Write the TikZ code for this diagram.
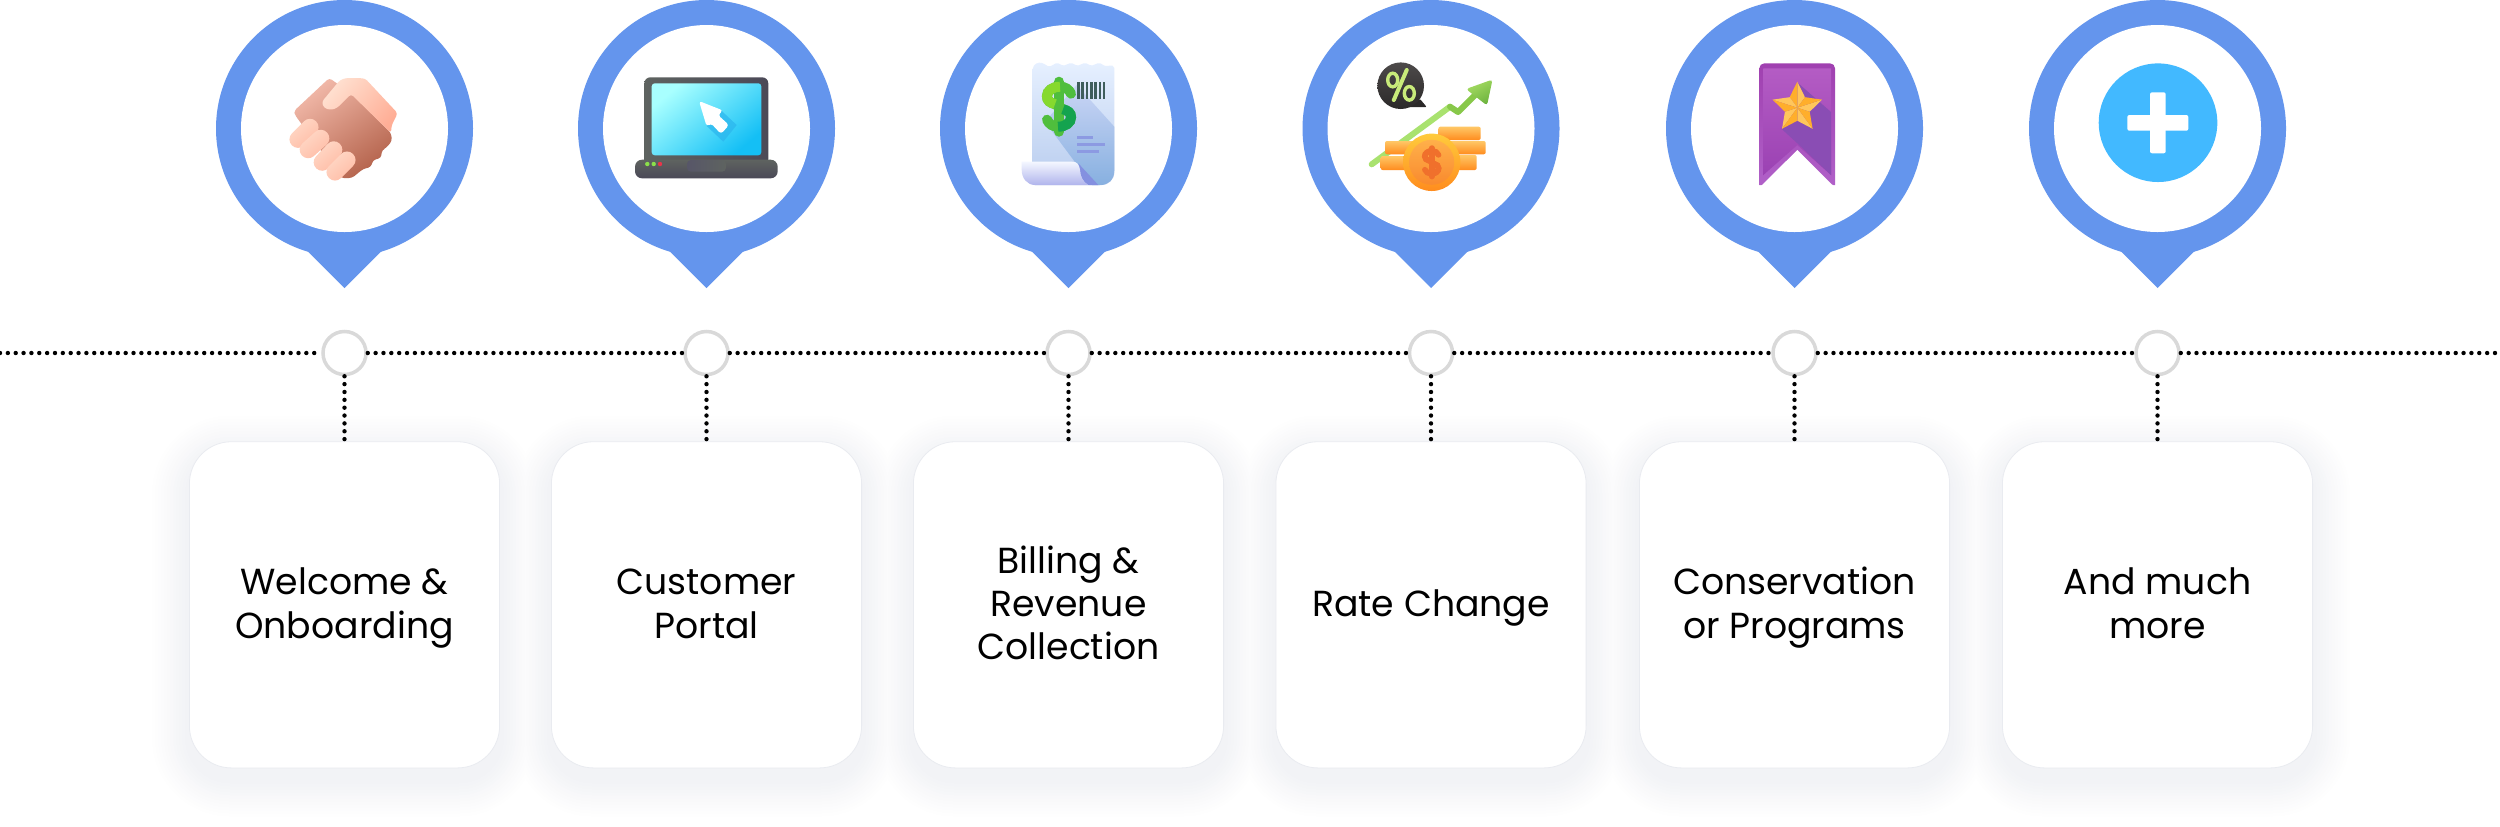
\documentclass[tikz,border=0pt]{standalone}
\usepackage{fontspec}
\setmainfont{Poppins}
\usetikzlibrary{positioning}
\definecolor{pinblue}{HTML}{6495ED}
\definecolor{ringgray}{HTML}{D9D9D9}
\definecolor{cardline}{HTML}{E9EBF0}
\definecolor{shadowgray}{HTML}{5A6A8A}
\definecolor{plusblue}{HTML}{42B9FF}
\definecolor{skinlight}{HTML}{FFDCCB}
\definecolor{skinpeach}{HTML}{FFB9A2}
\definecolor{palmlight}{HTML}{F1B8A8}
\definecolor{palmdark}{HTML}{B5644D}
\definecolor{thumblight}{HTML}{FFE0D0}
\definecolor{thumbdark}{HTML}{FFAE96}
\definecolor{casegray}{HTML}{5E6360}
\definecolor{caseslate}{HTML}{4B4957}
\definecolor{screenlight}{HTML}{A8FFFF}
\definecolor{screenblue}{HTML}{14BFF5}
\definecolor{cursorshade}{HTML}{2BB5EE}
\definecolor{padslate}{HTML}{575668}
\definecolor{ledgreen}{HTML}{8BE04A}
\definecolor{ledred}{HTML}{E8344A}
\definecolor{paperlight}{HTML}{E6F0FF}
\definecolor{paperblue}{HTML}{B8CCEE}
\definecolor{foldlight}{HTML}{CAD5F5}
\definecolor{foldblue}{HTML}{87B0E0}
\definecolor{barcode}{HTML}{3F5E5C}
\definecolor{printline}{HTML}{8C9AE2}
\definecolor{curlblue}{HTML}{8490E0}
\definecolor{rolllight}{HTML}{F4F7FF}
\definecolor{rollblue}{HTML}{B0B4EC}
\definecolor{cashlight}{HTML}{86D92E}
\definecolor{cashmid}{HTML}{4FBE3D}
\definecolor{cashdark}{HTML}{14A34F}
\definecolor{bubbledark}{HTML}{2B2929}
\definecolor{bubbletop}{HTML}{4D4A4A}
\definecolor{percentgreen}{HTML}{C8EB7A}
\definecolor{trendline}{HTML}{A9E26F}
\definecolor{trendneck}{HTML}{88C84A}
\definecolor{trendtop}{HTML}{A7DD63}
\definecolor{trendbot}{HTML}{6DB33F}
\definecolor{coinlight}{HTML}{FFC766}
\definecolor{coinorange}{HTML}{FF8C1E}
\definecolor{rimlight}{HTML}{FFCB3C}
\definecolor{facelight}{HTML}{FFB04A}
\definecolor{facedark}{HTML}{F98A2E}
\definecolor{coinmark}{HTML}{F0702C}
\definecolor{ribbontop}{HTML}{A040B0}
\definecolor{ribbonbot}{HTML}{B060C8}
\definecolor{ribbonlight}{HTML}{B45CC4}
\definecolor{ribbondeep}{HTML}{9B42B3}
\definecolor{ribbonshade}{HTML}{8A4DB4}
\definecolor{starlight}{HTML}{FFC65C}
\definecolor{stardeep}{HTML}{FFAE2B}
\tikzset{
  dotline/.style={line width=0.044cm,line cap=round,dash pattern=on 0pt off 0.0785cm},
  ringdot/.style={circle,draw=ringgray,fill=white,line width=0.035cm,minimum size=0.43cm,inner sep=0pt},
  cardbox/.style={draw=cardline,line width=0.008cm,fill=white,rounded corners=0.42cm,minimum width=3.10cm,minimum height=3.26cm,align=center,font=\fontsize{10.3}{12.25}\selectfont},
}
\newcommand{\cardstrut}{\rule[-2.805pt]{0pt}{12.25pt}}
\newcommand{\dollarsign}[7]{%
  \begin{scope}[shift={(#1,#2)},scale=#3,line width=#4]
  \draw[#6,line cap=round] (0,-25)--(0,25);
  \draw[#6,line cap=round] (12,-13) .. controls (10,-17.5) and (6,-20) .. (1,-20) .. controls (-6.5,-20) and (-12,-16) .. (-12,-10.5) .. controls (-12,-6) and (-9,-4) .. (-4,-2.5) -- (4,2.5) .. controls (9,4) and (12,6) .. (12,10.5) .. controls (12,16) and (6.5,20) .. (-1,20) .. controls (-6,20) and (-10,17.5) .. (-12,13);
  \draw[#5] (1,-20) .. controls (-6.5,-20) and (-12,-16) .. (-12,-10.5) .. controls (-12,-6) and (-9,-4) .. (-4,-2.5);
  \draw[#7] (4,2.5) .. controls (9,4) and (12,6) .. (12,10.5) .. controls (12,16) and (6.5,20) .. (-1,20);
  \end{scope}}
\newcommand{\fingerbar}[3]{%
  \begin{scope}[shift={(#1,#2)},rotate=#3]
  \shade[top color=skinlight,bottom color=skinpeach,shading angle=40,rounded corners=0.084cm] (-17,-8.5) rectangle (17,8.5);
  \end{scope}}
\begin{document}
\begin{tikzpicture}[x=0.01cm,y=-0.01cm]
\useasboundingbox (0,0) rectangle (2500,826);
\fill[white] (0,0) rectangle (2500,826);
\coordinate (lineleft) at (0,353);
\coordinate (lineright) at (2500,353);
\foreach \i [evaluate=\i as \tint using (13-\i)*0.65] in {12,...,1}
  \foreach \x in {344.5,706.5,1068.5,1431,1794.5,2157.5}
    \fill[shadowgray!\tint!white,rounded corners=0.42cm+\i*0.03cm] (\x-156-\i*3,452-\i*3) rectangle (\x+156+\i*3,780+\i*3);
\foreach \n/\x in {1/344.5,2/706.5,3/1068.5,4/1431,5/1794.5,6/2157.5}{
  \fill[pinblue] (\x,128.5) circle (128.5);
  \fill[pinblue] (\x-37,251)--(\x,288)--(\x+37,251)--cycle;
  \fill[white] (\x,128.5) circle (103.5);
  \node[ringdot] (dot\n) at (\x,353) {};
}
\node[cardbox,below=0.65cm of dot1] (card1) {\cardstrut Welcome \&\\\cardstrut Onboarding};
\node[cardbox,below=0.65cm of dot2] (card2) {\cardstrut Customer\\\cardstrut Portal};
\node[cardbox,below=0.65cm of dot3] (card3) {\cardstrut Billing \&\\\cardstrut Revenue\\\cardstrut Collection};
\node[cardbox,below=0.65cm of dot4] (card4) {\cardstrut Rate Change};
\node[cardbox,below=0.65cm of dot5] (card5) {\cardstrut Conservation\\\cardstrut or Programs};
\node[cardbox,below=0.65cm of dot6] (card6) {\cardstrut And much\\\cardstrut more};
\draw[dotline] (lineleft)--(dot1);
\foreach \a/\b in {1/2,2/3,3/4,4/5,5/6}
  \draw[dotline] (dot\a)--(dot\b);
\draw[dotline] (dot6)--(lineright);
\foreach \n in {1,...,6}
  \draw[dotline] (dot\n)--(card\n);
% handshake
\shade[top color=palmlight,bottom color=palmdark,shading angle=35,rounded corners=0.03cm] (329.3,78) -- (352,94) -- (391,133) -- (392,141) -- (386,148) -- (382,150) -- (381,158) -- (373,160) -- (371,167) -- (363,169) -- (352,178) -- (341,178) -- (295,115) -- (294,111) -- cycle;
\shade[top color=thumblight,bottom color=thumbdark,shading angle=50,rounded corners=0.03cm] (321.7,102) -- (340,80) -- (346,78) -- (365,78.3) -- (397.7,113.3) -- (391.7,125) -- (391,133) -- (351,94) -- (337,108) -- (331,110) -- (324,108) -- cycle;
\fingerbar{304}{133.3}{45}
\fingerbar{314.5}{144}{42}
\fingerbar{328}{156}{47}
\fingerbar{341}{166}{45}
% laptop
\shade[left color=casegray,right color=caseslate,rounded corners=0.06cm] (644.3,77.3) rectangle (768.3,165);
\shade[top color=screenlight,bottom color=screenblue,shading angle=40,rounded corners=0.03cm] (651.7,83.3) rectangle (761.3,155.3);
\fill[cursorshade,opacity=0.7] (720.7,110)--(736.7,125)--(723.3,141.7)--(706.7,126)--cycle;
\fill[white,rounded corners=0.03cm] (699,101)--(723,110.5)--(718,115)--(729,125)--(721,134)--(711,123.3)--(706.7,126.5)--cycle;
\shade[top color=casegray,bottom color=caseslate,rounded corners=0.07cm] (635,159.7) rectangle (777.7,178.3);
\shade[left color=padslate,right color=casegray,rounded corners=0.04cm] (687,160) rectangle (726,171.7);
\fill[ledgreen] (647.3,164) circle (2.2);
\fill[ledgreen] (653.7,164) circle (2.2);
\fill[ledred] (660,164) circle (2.2);
% receipt
\shade[top color=paperlight,bottom color=paperblue,rounded corners=0.02cm] (1032.7,67) .. controls (1037,62) and (1041,62) .. (1046,65) .. controls (1051,68) and (1055,62) .. (1060,64) .. controls (1065,67) and (1069,62) .. (1074,64) .. controls (1079,67) and (1083,62) .. (1088,64) .. controls (1093,67) and (1097,62) .. (1102,64) .. controls (1106,67) and (1110,65) .. (1114.3,66) -- (1114.3,170) .. controls (1114.3,180) and (1108,185) .. (1100,185) -- (1032.7,185) -- cycle;
\shade[top color=foldlight,bottom color=foldblue] (1076.7,85)--(1114.3,126.7)--(1114.3,170) .. controls (1114.3,180) and (1108,185) .. (1100,185)--(1092,185)--(1045,121.7)--cycle;
\foreach \b in {0,...,6}
  \fill[barcode] (1077+\b*4.3,82.3) rectangle (1079.6+\b*4.3,99.3);
\fill[printline] (1076.7,136) rectangle (1093.3,139.3);
\fill[printline] (1076.7,142.7) rectangle (1105,146);
\fill[printline] (1076.7,150) rectangle (1099,153.3);
\fill[curlblue] (1078.3,163.3)--(1098.3,185)--(1088.3,185) .. controls (1083,182) and (1080,176) .. (1080,170)--cycle;
\shade[top color=rolllight,bottom color=rollblue] (1021.7,161.7)--(1072,161.7) .. controls (1077,161.7) and (1079,164) .. (1080,170) .. controls (1080,176) and (1083,182) .. (1088.3,185)--(1035,185) .. controls (1027,185) and (1021.7,178) .. (1021.7,170)--cycle;
\dollarsign{1059}{106.7}{1}{0.1cm}{color=cashlight}{color=cashmid}{color=cashdark}
% rate change
\fill[bubbledark,rounded corners=0.01cm] (1408,107)--(1426.7,107)--(1420,99)--cycle;
\shade[top color=bubbletop,bottom color=bubbledark] (1400.7,85.7) circle (23.3);
\draw[percentgreen,line width=0.034cm] (1392.7,80) ellipse (5 and 6.8);
\draw[percentgreen,line width=0.034cm] (1409.3,93.3) ellipse (5 and 6.8);
\draw[percentgreen,line width=0.04cm,line cap=round] (1406.7,70)--(1393.8,100);
\draw[trendline,line width=0.06cm,line cap=round,line join=round] (1371.7,164.3)--(1450,106.7);
\draw[trendneck,line width=0.06cm,line cap=round,line join=round] (1450,106.7)--(1458,112)--(1475,95);
\shade[top color=trendtop,bottom color=trendbot,shading angle=30,rounded corners=0.03cm] (1466,89)--(1492.5,79.5)--(1487,105.5)--cycle;
\foreach \ax/\ay/\bx/\by in {1438.3/126.7/1480.7/140,1443.3/141/1485.7/154.3,1443/155/1476.7/170,1385/141/1416.7/154.3,1380.7/156/1413.3/170}
  \shade[top color=coinlight,bottom color=coinorange,rounded corners=0.02cm] (\ax,\ay) rectangle (\bx,\by);
\shade[top color=rimlight,bottom color=coinorange] (1431.7,162.3) circle (28.7);
\shade[top color=facelight,bottom color=facedark] (1431.7,162.3) circle (22.5);
\dollarsign{1431.7}{162.3}{0.57}{0.056cm}{color=coinmark}{color=coinmark}{color=coinmark}
% ribbon
\shade[top color=ribbontop,bottom color=ribbonbot,rounded corners=0.05cm] (1759.3,185)--(1759.3,63.3)--(1835,63.3)--(1835,185);
\fill[white] (1761,186)--(1797.3,150)--(1833.5,186)--cycle;
\shade[top color=ribbonlight,bottom color=ribbondeep] (1763.3,68.3)--(1831,68.3)--(1831,175)--(1797.3,145)--(1763.3,175)--cycle;
\fill[ribbonshade] (1798.3,83.3)--(1831,112)--(1831,175)--(1797,143)--(1781.7,129)--cycle;
\foreach \s in {270,342,54,126,198}{
  \fill[starlight] (1797.3,107.7)--([shift={(1797.3,107.7)}]\s:26)--([shift={(1797.3,107.7)}]\s+36:13)--cycle;
  \fill[stardeep] (1797.3,107.7)--([shift={(1797.3,107.7)}]\s:26)--([shift={(1797.3,107.7)}]\s-36:13)--cycle;
}
% plus
\fill[plusblue] (2158,122.7) circle (59.3);
\fill[white,rounded corners=0.02cm] (2150,92.3) rectangle (2165.7,153.3);
\fill[white,rounded corners=0.02cm] (2127.3,115) rectangle (2188.3,130.7);
\end{tikzpicture}
\end{document}
